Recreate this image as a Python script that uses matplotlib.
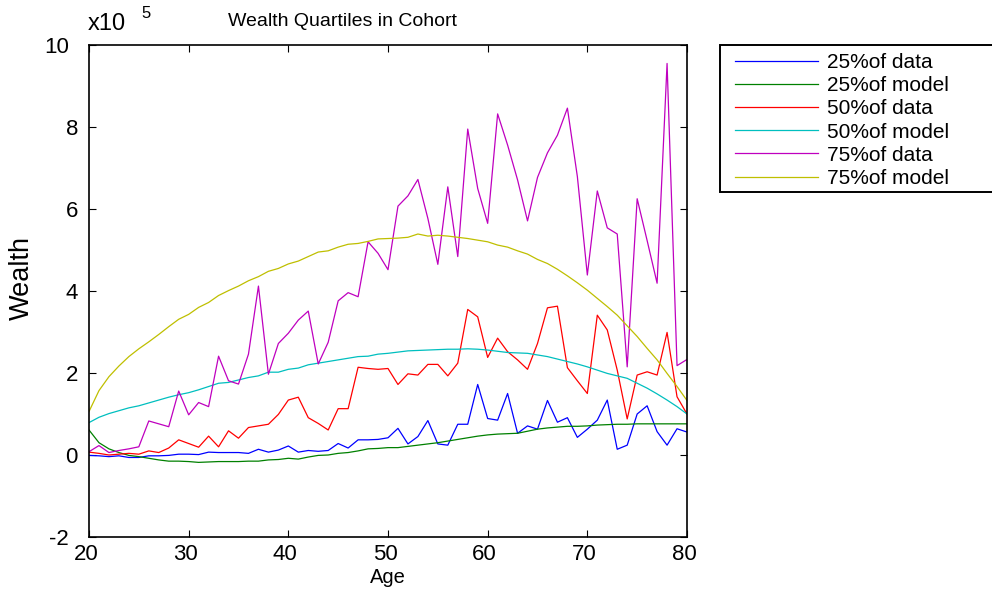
import matplotlib
matplotlib.use("Agg")
import matplotlib.pyplot as plt
import matplotlib.transforms as mtrans
from matplotlib.lines import Line2D
import numpy as np

ages = list(range(20, 81))

q25_data = [-0.01, -0.02, -0.04, -0.02, -0.06, -0.06, -0.02, -0.02, -0.01, 0.02,
            0.02, 0.01, 0.07, 0.06, 0.06, 0.06, 0.04, 0.14, 0.07, 0.12,
            0.22, 0.07, 0.11, 0.09, 0.11, 0.28, 0.17, 0.37, 0.37, 0.38,
            0.42, 0.65, 0.27, 0.45, 0.84, 0.27, 0.24, 0.75, 0.75, 1.72,
            0.89, 0.85, 1.50, 0.53, 0.71, 0.63, 1.33, 0.80, 0.91, 0.43,
            0.63, 0.85, 1.34, 0.14, 0.24, 1.00, 1.20, 0.57, 0.24, 0.64, 0.56]

q25_model = [0.61, 0.30, 0.15, 0.06, -0.01, -0.04, -0.08, -0.12, -0.15, -0.15,
             -0.16, -0.18, -0.17, -0.16, -0.16, -0.16, -0.15, -0.15, -0.12, -0.11,
             -0.08, -0.10, -0.05, -0.01, 0.00, 0.04, 0.06, 0.10, 0.15, 0.16,
             0.18, 0.18, 0.21, 0.24, 0.27, 0.30, 0.34, 0.38, 0.42, 0.46,
             0.49, 0.51, 0.52, 0.53, 0.58, 0.63, 0.66, 0.68, 0.70, 0.70,
             0.71, 0.73, 0.74, 0.75, 0.75, 0.76, 0.76, 0.76, 0.76, 0.76, 0.76]

q50_data = [0.07, 0.04, 0.00, 0.02, 0.04, 0.02, 0.10, 0.06, 0.17, 0.37,
            0.28, 0.19, 0.46, 0.20, 0.59, 0.41, 0.67, 0.71, 0.75, 0.99,
            1.34, 1.41, 0.91, 0.77, 0.61, 1.13, 1.13, 2.14, 2.11, 2.09,
            2.11, 1.72, 1.98, 1.95, 2.21, 2.21, 1.93, 2.24, 3.55, 3.37,
            2.38, 2.85, 2.52, 2.32, 2.09, 2.72, 3.59, 3.63, 2.13, 1.81,
            1.50, 3.41, 3.05, 2.07, 0.88, 1.95, 2.03, 1.95, 2.99, 1.42, 1.00]

q50_model = [0.79, 0.92, 1.01, 1.08, 1.15, 1.20, 1.27, 1.34, 1.41, 1.47,
             1.52, 1.59, 1.67, 1.75, 1.77, 1.83, 1.89, 1.93, 2.02, 2.02,
             2.09, 2.12, 2.20, 2.24, 2.28, 2.32, 2.36, 2.40, 2.41, 2.46,
             2.48, 2.51, 2.54, 2.55, 2.56, 2.57, 2.58, 2.58, 2.59, 2.58,
             2.56, 2.53, 2.50, 2.49, 2.48, 2.44, 2.40, 2.34, 2.28, 2.22,
             2.15, 2.07, 1.99, 1.93, 1.87, 1.75, 1.63, 1.49, 1.34, 1.18, 1.00]

q75_data = [0.08, 0.23, 0.06, 0.11, 0.15, 0.20, 0.83, 0.76, 0.69, 1.56,
            0.98, 1.28, 1.18, 2.41, 1.81, 1.73, 2.46, 4.12, 1.97, 2.72,
            2.97, 3.29, 3.51, 2.22, 2.75, 3.76, 3.96, 3.86, 5.20, 4.92,
            4.52, 6.07, 6.32, 6.72, 5.77, 4.65, 6.54, 4.84, 7.95, 6.50,
            5.65, 8.32, 7.56, 6.71, 5.71, 6.77, 7.37, 7.80, 8.46, 6.79,
            4.39, 6.44, 5.54, 5.39, 2.15, 6.25, 5.23, 4.19, 9.55, 2.18, 2.33]

q75_model = [1.06, 1.57, 1.91, 2.17, 2.40, 2.59, 2.76, 2.94, 3.13, 3.31,
             3.43, 3.60, 3.72, 3.89, 4.01, 4.12, 4.25, 4.35, 4.48, 4.55,
             4.66, 4.73, 4.84, 4.95, 4.98, 5.07, 5.14, 5.16, 5.21, 5.27,
             5.28, 5.29, 5.31, 5.39, 5.34, 5.36, 5.34, 5.31, 5.28, 5.24,
             5.20, 5.12, 5.07, 4.98, 4.90, 4.77, 4.67, 4.53, 4.37, 4.20,
             4.02, 3.82, 3.62, 3.41, 3.15, 2.89, 2.60, 2.32, 1.99, 1.67, 1.33]

labels = ["25%of data", "25%of model", "50%of data", "50%of model",
          "75%of data", "75%of model"]
colors = [(0, 0, 1), (0, 0.5, 0), (1, 0, 0), (0, 0.75, 0.75),
          (0.75, 0, 0.75), (0.75, 0.75, 0)]
series = [q25_data, q25_model, q50_data, q50_model, q75_data, q75_model]

x_ticks = [20, 30, 40, 50, 60, 70, 80]
y_ticks = [-2, 0, 2, 4, 6, 8, 10]

plt.rcParams['font.family'] = ['Liberation Sans', 'DejaVu Sans']
plt.rcParams['axes.unicode_minus'] = False

W, H = 992, 598
fig = plt.figure(figsize=(W / 100, H / 100), dpi=100)
ax = fig.add_axes([89 / W, 1 - 537 / H, (687 - 89) / W, (537 - 45) / H])

for vals, c, lab in zip(series, colors, labels):
    ax.plot(ages, vals, color=c, lw=0.9, label=lab)

ax.set_xlim(20, 80)
ax.set_ylim(-2, 10)
ax.set_xticks(x_ticks)
ax.set_yticks(y_ticks)
ax.set_yticklabels([str(v) for v in y_ticks])
ax.tick_params(direction='in', top=True, right=True, length=5, width=0.8,
               labelsize=16)
ax.tick_params(axis='y', pad=8)
ax.tick_params(axis='x', pad=5)
for s in ax.spines.values():
    s.set_linewidth(1.2)

# small per-label offsets to mimic the reference rendering
for lbl in ax.get_xticklabels():
    lbl.set_transform(lbl.get_transform() +
                      mtrans.ScaledTranslation(-3 / 100, 0, fig.dpi_scale_trans))
ylbls = ax.get_yticklabels()
for i in (0, len(ylbls) - 1):
    ylbls[i].set_transform(ylbls[i].get_transform() +
                           mtrans.ScaledTranslation(-9 / 100, 0, fig.dpi_scale_trans))

ax.set_xlabel("Age", fontsize=14.5, labelpad=2)
ax.set_ylabel("Wealth", fontsize=19.5)
ax.yaxis.set_label_coords((35 - 89) / 598, (537 - 278) / 492)
fig.text(342 / W, 1 - 22 / H, "Wealth Quartiles in Cohort", ha='center', va='center',
         fontsize=14)
fig.text(88 / W, 1 - 24 / H, "x10", ha='left', va='center', fontsize=17)
fig.text(141 / W, 1 - 14 / H, "5", ha='left', va='center', fontsize=12)

leg = ax.legend(loc='upper left', bbox_to_anchor=(735 / W, 1 - 53 / H),
                bbox_transform=fig.transFigure, fontsize=15, frameon=False,
                handlelength=4.0, handletextpad=0.4, labelspacing=0.2,
                borderpad=0, borderaxespad=0)
# legend box, open on the right (it runs off the figure edge in the reference)
frame = Line2D([W / W, 720 / W, 720 / W, W / W],
               [1 - 45 / H, 1 - 45 / H, 1 - 192 / H, 1 - 192 / H],
               transform=fig.transFigure, color='black', linewidth=1.4,
               solid_joinstyle='miter')
fig.add_artist(frame)

fig.savefig("out.png", dpi=100)
